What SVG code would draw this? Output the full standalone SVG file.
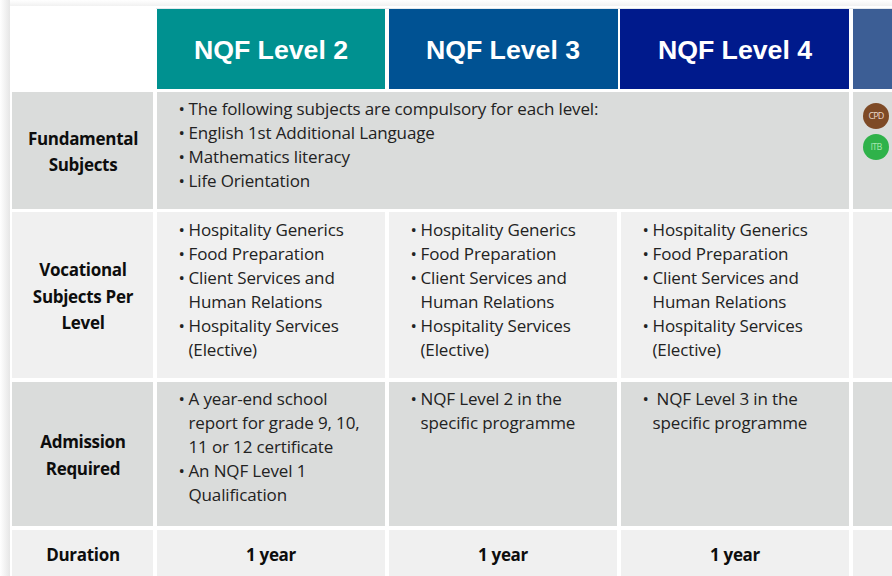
<svg xmlns="http://www.w3.org/2000/svg" width="892" height="576" viewBox="0 0 892 576">
<style>
text{font-family:"Open Sans","Noto Sans","Liberation Sans",sans-serif;fill:#222}
.b{font-size:17px;letter-spacing:-.14px}
.l{font-size:17px;font-weight:700;text-anchor:middle;fill:#0d0d0d;letter-spacing:-.3px}
.h{font-family:"Liberation Sans",Arial,sans-serif;font-size:26.7px;font-weight:700;fill:#fff;text-anchor:middle}
.d{fill:#dadcdb}.e{fill:#f0f0f0}
.c{font-size:9px;text-anchor:middle;letter-spacing:-.8px}
</style>
<defs><linearGradient id="s" x1="0" x2="1" y1="0" y2="0"><stop offset="0" stop-color="#fff"/><stop offset="1" stop-color="#e6e6e6"/></linearGradient>
<linearGradient id="t" x1="0" x2="0" y1="0" y2="1"><stop offset="0" stop-color="#fff"/><stop offset="1" stop-color="#efefef"/></linearGradient></defs>
<rect width="892" height="576" fill="#fff"/>
<rect x="10" y="0" width="882" height="7" fill="url(#t)"/>
<rect x="0" y="0" width="10" height="576" fill="url(#s)"/>
<rect x="10" y="6" width="882" height="570" fill="#fff"/>
<rect x="156" y="8" width="736" height="1" fill="#e4e8ec"/>

<g id="header">
<rect x="157" y="9" width="228" height="80" fill="#009190"/>
<rect x="389" y="9" width="229" height="80" fill="#005293"/>
<rect x="620" y="9" width="229" height="80" fill="#001a8c"/>
<rect x="853" y="9" width="39" height="80" fill="#3c5e95"/>
<text class="h" x="271" y="59">NQF Level 2</text>
<text class="h" x="503" y="59">NQF Level 3</text>
<text class="h" x="735" y="59">NQF Level 4</text>
</g>

<g id="row-fundamental">
<rect class="d" x="12" y="92" width="141" height="117"/>
<rect class="d" x="157" y="92" width="692" height="117"/>
<rect class="d" x="853" y="92" width="39" height="117"/>
<text class="l" x="83" y="145">Fundamental</text>
<text class="l" x="83" y="171">Subjects</text>
<g class="b">
<text x="178.500" y="115">•<tspan x="188.500">The following subjects are compulsory for each level:</tspan></text>
<text x="178.500" y="139">•<tspan x="188.500">English 1st Additional Language</tspan></text>
<text x="178.500" y="163">•<tspan x="188.500">Mathematics literacy</tspan></text>
<text x="178.500" y="187">•<tspan x="188.500">Life Orientation</tspan></text>
</g>
<g id="badges">
<circle cx="876" cy="116" r="13" fill="#7e4a26"/>
<circle cx="876" cy="147" r="13" fill="#2fb24a"/>
<text class="c" x="876" y="119" style="fill:#ecd9ca">CPD</text>
<text class="c" x="876" y="150" style="fill:#a6e6b0">ITB</text>
</g>
</g>

<g id="row-vocational">
<rect class="e" x="12" y="212" width="141" height="166"/>
<rect class="e" x="157" y="212" width="228" height="166"/>
<rect class="e" x="389" y="212" width="228" height="166"/>
<rect class="e" x="621" y="212" width="228" height="166"/>
<rect class="e" x="853" y="212" width="39" height="166"/>
<text class="l" x="83" y="276">Vocational</text>
<text class="l" x="83" y="303">Subjects Per</text>
<text class="l" x="83" y="329">Level</text>
<g class="b">
<text x="178.500" y="236">•<tspan x="188.500">Hospitality Generics</tspan></text>
<text x="178.500" y="260">•<tspan x="188.500">Food Preparation</tspan></text>
<text x="178.500" y="284">•<tspan x="188.500">Client Services and</tspan></text>
<text x="188.500" y="308">Human Relations</text>
<text x="178.500" y="332">•<tspan x="188.500">Hospitality Services</tspan></text>
<text x="188.500" y="356">(Elective)</text>
<text x="410.500" y="236">•<tspan x="420.500">Hospitality Generics</tspan></text>
<text x="410.500" y="260">•<tspan x="420.500">Food Preparation</tspan></text>
<text x="410.500" y="284">•<tspan x="420.500">Client Services and</tspan></text>
<text x="420.500" y="308">Human Relations</text>
<text x="410.500" y="332">•<tspan x="420.500">Hospitality Services</tspan></text>
<text x="420.500" y="356">(Elective)</text>
<text x="642.500" y="236">•<tspan x="652.500">Hospitality Generics</tspan></text>
<text x="642.500" y="260">•<tspan x="652.500">Food Preparation</tspan></text>
<text x="642.500" y="284">•<tspan x="652.500">Client Services and</tspan></text>
<text x="652.500" y="308">Human Relations</text>
<text x="642.500" y="332">•<tspan x="652.500">Hospitality Services</tspan></text>
<text x="652.500" y="356">(Elective)</text>
</g>
</g>

<g id="row-admission">
<rect class="d" x="12" y="382" width="141" height="144"/>
<rect class="d" x="157" y="382" width="228" height="144"/>
<rect class="d" x="389" y="382" width="228" height="144"/>
<rect class="d" x="621" y="382" width="228" height="144"/>
<rect class="d" x="853" y="382" width="39" height="144"/>
<text class="l" x="83" y="448">Admission</text>
<text class="l" x="83" y="475">Required</text>
<g class="b">
<text x="178.500" y="405">•<tspan x="188.500">A year-end school</tspan></text>
<text x="188.500" y="429">report for grade 9, 10,</text>
<text x="188.500" y="453">11 or 12 certificate</text>
<text x="178.500" y="477">•<tspan x="188.500">An NQF Level 1</tspan></text>
<text x="188.500" y="501">Qualification</text>
<text x="410.500" y="405">•<tspan x="420.500">NQF Level 2 in the</tspan></text>
<text x="420.500" y="429">specific programme</text>
<text x="642.500" y="405">•<tspan x="656.500">NQF Level 3 in the</tspan></text>
<text x="652.500" y="429">specific programme</text>
</g>
</g>

<g id="row-duration">
<rect class="e" x="12" y="530" width="141" height="46"/>
<rect class="e" x="157" y="530" width="228" height="46"/>
<rect class="e" x="389" y="530" width="228" height="46"/>
<rect class="e" x="621" y="530" width="228" height="46"/>
<rect class="e" x="853" y="530" width="39" height="46"/>
<text class="l" x="83" y="561">Duration</text>
<text class="l" x="271" y="561">1 year</text>
<text class="l" x="503" y="561">1 year</text>
<text class="l" x="735" y="561">1 year</text>
</g>
</svg>
